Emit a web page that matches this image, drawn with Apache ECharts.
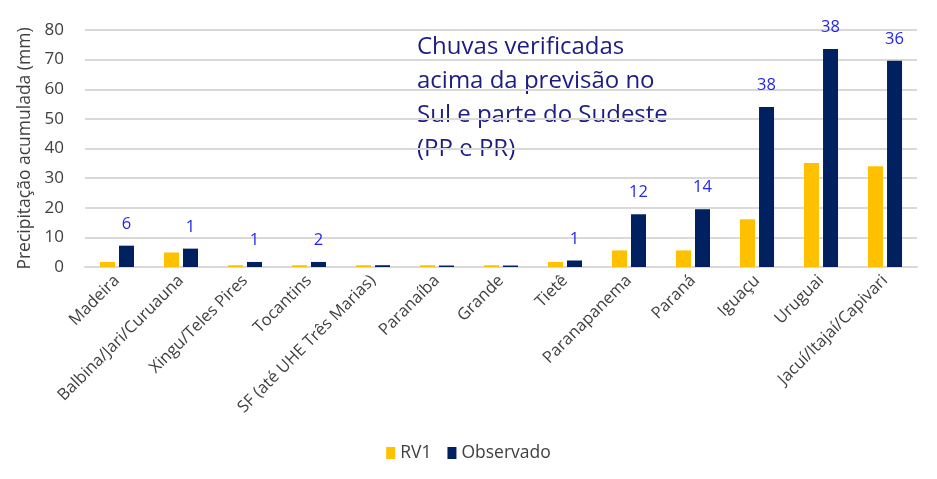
<!DOCTYPE html>
<html>
<head>
<meta charset="utf-8">
<script src="https://cdn.jsdelivr.net/npm/echarts@6/dist/echarts.min.js"></script>
<style>
html, body { margin: 0; padding: 0; background: #fff; }
#main { width: 937px; height: 479px; }
</style>
</head>
<body>
<div id="main"></div>
<script>
// bacias
var categorias = ['Madeira', 'Balbina/Jari/Curuauna', 'Xingu/Teles Pires', 'Tocantins',
    'SF (até UHE Três Marias)', 'Paranaíba', 'Grande', 'Tietê', 'Paranapanema',
    'Paraná', 'Iguaçu', 'Uruguai', 'Jacuí/Itajaí/Capivari'];
var rv1 = [1.7, 4.9, 0.6, 0.6, 0.6, 0.6, 0.6, 1.7, 5.6, 5.6, 16.1, 35.1, 34.0];
var observado = [7.2, 6.2, 1.7, 1.7, 0.6, 0.5, 0.5, 2.2, 17.8, 19.5, 54.0, 73.6, 69.6];
// numeros em azul acima das barras
var rotulos = ['6', '1', '1', '2', '', '', '', '1', '12', '14', '38', '38', '36'];
var yTicks = { min: 0, max: 80, interval: 10 };

var fonte = '"Open Sans", "DejaVu Sans", sans-serif';
var myChart = echarts.init(document.getElementById('main'));

var option = {
    backgroundColor: '#fff',
    animation: false,
    textStyle: { fontFamily: fonte },
    legend: {
        data: ['RV1', 'Observado'],
        top: 439,
        left: 'center',
        icon: 'rect',
        itemWidth: 9,
        itemHeight: 12,
        itemGap: 16,
        textStyle: { fontSize: 17.5, color: '#404040', fontFamily: fonte }
    },
    grid: {
        left: 85,
        right: 20,
        top: 30,
        bottom: 212
    },
    graphic: [{
        type: 'text',
        left: 417,
        top: 30,
        style: {
            text: 'Chuvas verificadas\nacima da previsão no\nSul e parte do Sudeste\n(PP e PR)',
            font: '24px ' + fonte,
            lineHeight: 34,
            fill: '#1c1c84'
        }
    }],
    xAxis: [{
        type: 'category',
        data: categorias,
        axisTick: { show: false },
        axisLine: { lineStyle: { color: '#d9d9d9', width: 2 } },
        axisLabel: {
            rotate: 45,
            interval: 0,
            margin: 11,
            fontSize: 16.5,
            color: '#404040',
            fontFamily: fonte
        }
    }],
    yAxis: [{
        type: 'value',
        min: yTicks.min,
        max: yTicks.max,
        interval: yTicks.interval,
        name: 'Precipitação acumulada (mm)',
        nameLocation: 'middle',
        nameGap: 49,
        nameTextStyle: { fontSize: 17.5, color: '#404040', fontFamily: fonte },
        axisLine: { show: false },
        axisTick: { show: false },
        axisLabel: { fontSize: 17, color: '#404040', margin: 21, fontFamily: fonte },
        splitLine: { lineStyle: { color: '#d9d9d9', width: 2 } }
    }],
    series: [{
        name: 'RV1',
        type: 'bar',
        barWidth: 15,
        barGap: '27%',
        itemStyle: { color: '#FFC000' },
        data: rv1
    }, {
        name: 'Observado',
        type: 'bar',
        barWidth: 15,
        itemStyle: { color: '#002060' },
        label: {
            show: true,
            position: 'top',
            distance: 13,
            fontSize: 16.5,
            color: '#2424f0',
            fontFamily: fonte,
            formatter: function (p) { return rotulos[p.dataIndex]; }
        },
        data: observado
    }]
};

myChart.setOption(option);
</script>
</body>
</html>
